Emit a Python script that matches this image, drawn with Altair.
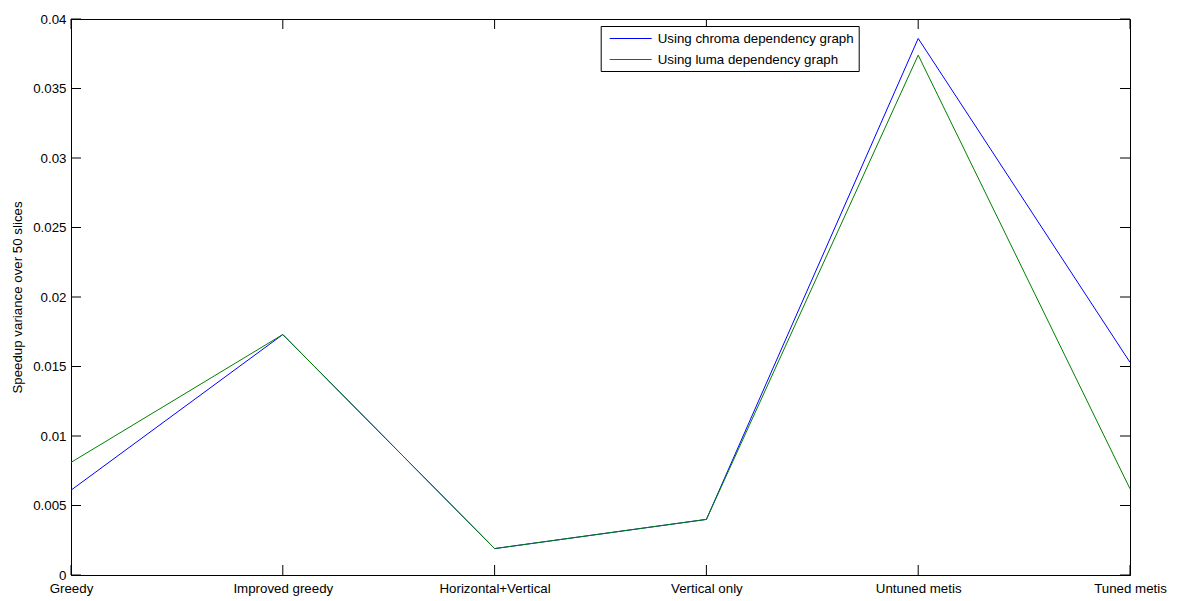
import altair as alt
import pandas as pd

# Partitioning strategies along the x axis
categories = [
    "Greedy",
    "Improved greedy",
    "Horizontal+Vertical",
    "Vertical only",
    "Untuned metis",
    "Tuned metis",
]

# Speedup variance over 50 slices, per dependency graph
chroma = [0.0061, 0.0173, 0.0019, 0.0040, 0.0386, 0.0153]
luma = [0.0081, 0.0173, 0.0019, 0.0040, 0.0374, 0.0062]

series = ["Using chroma dependency graph", "Using luma dependency graph"]
colors = ["#0000ff", "#008000"]

y_ticks = [0.0, 0.005, 0.01, 0.015, 0.02, 0.025, 0.03, 0.035, 0.04]

W, H = 1059, 556
FONT = "Liberation Sans"
FS = 13.3
TICK = 10

rows = []
for name, vals in zip(series, [chroma, luma]):
    for c, v in zip(categories, vals):
        rows.append({"strategy": c, "series": name, "variance": v})
df = pd.DataFrame(rows)

x_scale = alt.Scale(type="point", domain=categories, padding=0)
y_scale = alt.Scale(domain=[0, 0.04], nice=False, zero=True)

x_enc = alt.X(
    "strategy:N",
    scale=x_scale,
    sort=categories,
    axis=alt.Axis(
        title=None,
        labelAngle=0,
        labelAlign="center",
        labelBaseline="top",
        labelFlush=False,
        labelOverlap=False,
        tickSize=0,
        labelPadding=6,
        labelFont=FONT,
        labelFontSize=FS,
        labelColor="#000000",
        domainColor="#000000",
    ),
)

y_enc = alt.Y(
    "variance:Q",
    scale=y_scale,
    axis=alt.Axis(
        title="Speedup variance over 50 slices",
        values=y_ticks,
        format=".3~f",
        tickSize=0,
        labelPadding=5,
        labelFlush=False,
        labelFont=FONT,
        labelFontSize=FS,
        labelColor="#000000",
        titleFont=FONT,
        titleFontSize=FS,
        titleFontWeight="normal",
        titleColor="#000000",
        titlePadding=8,
        grid=False,
        domainColor="#000000",
    ),
)

lines = (
    alt.Chart(df)
    .mark_line(strokeWidth=1, clip=False)
    .encode(
        x=x_enc,
        y=y_enc,
        color=alt.Color(
            "series:N",
            scale=alt.Scale(domain=series, range=colors),
            legend=alt.Legend(
                title=None,
                orient="none",
                legendX=529.7,
                legendY=7,
                # short horizontal stroke, extending to the right of the symbol anchor
                symbolType="M-0.5,0H5.5",
                symbolSize=196,
                symbolStrokeWidth=1,
                labelFont=FONT,
                labelFontSize=FS,
                labelColor="#000000",
                labelOffset=37,
                strokeColor="#000000",
                fillColor="#ffffff",
                padding=5,
                rowPadding=7,
                labelLimit=400,
            ),
        ),
        detail="series:N",
    )
)

# Inward tick marks on all four sides of the box
ytick_df = pd.DataFrame({"variance": y_ticks})
xtick_df = pd.DataFrame({"strategy": categories})

left_ticks = alt.Chart(ytick_df).mark_rule(color="#000000", strokeWidth=1).encode(
    y=alt.Y("variance:Q", scale=y_scale), x=alt.value(0), x2=alt.value(TICK)
)
right_ticks = alt.Chart(ytick_df).mark_rule(color="#000000", strokeWidth=1).encode(
    y=alt.Y("variance:Q", scale=y_scale), x=alt.value(W - TICK), x2=alt.value(W)
)
bottom_ticks = alt.Chart(xtick_df).mark_rule(color="#000000", strokeWidth=1).encode(
    x=alt.X("strategy:N", scale=x_scale, sort=categories), y=alt.value(H - TICK), y2=alt.value(H)
)
top_ticks = alt.Chart(xtick_df).mark_rule(color="#000000", strokeWidth=1).encode(
    x=alt.X("strategy:N", scale=x_scale, sort=categories), y=alt.value(0), y2=alt.value(TICK)
)

chart = (
    alt.layer(left_ticks, right_ticks, bottom_ticks, top_ticks, lines)
    .properties(
        width=W,
        height=H,
        autosize=alt.AutoSizeParams(type="none"),
        padding={"left": 71, "top": 19, "right": 55, "bottom": 26},
        background="#ffffff",
    )
    .configure_view(stroke="#000000", strokeWidth=1)
)

chart.save("out.html", embed_options={"renderer": "svg", "actions": False})
